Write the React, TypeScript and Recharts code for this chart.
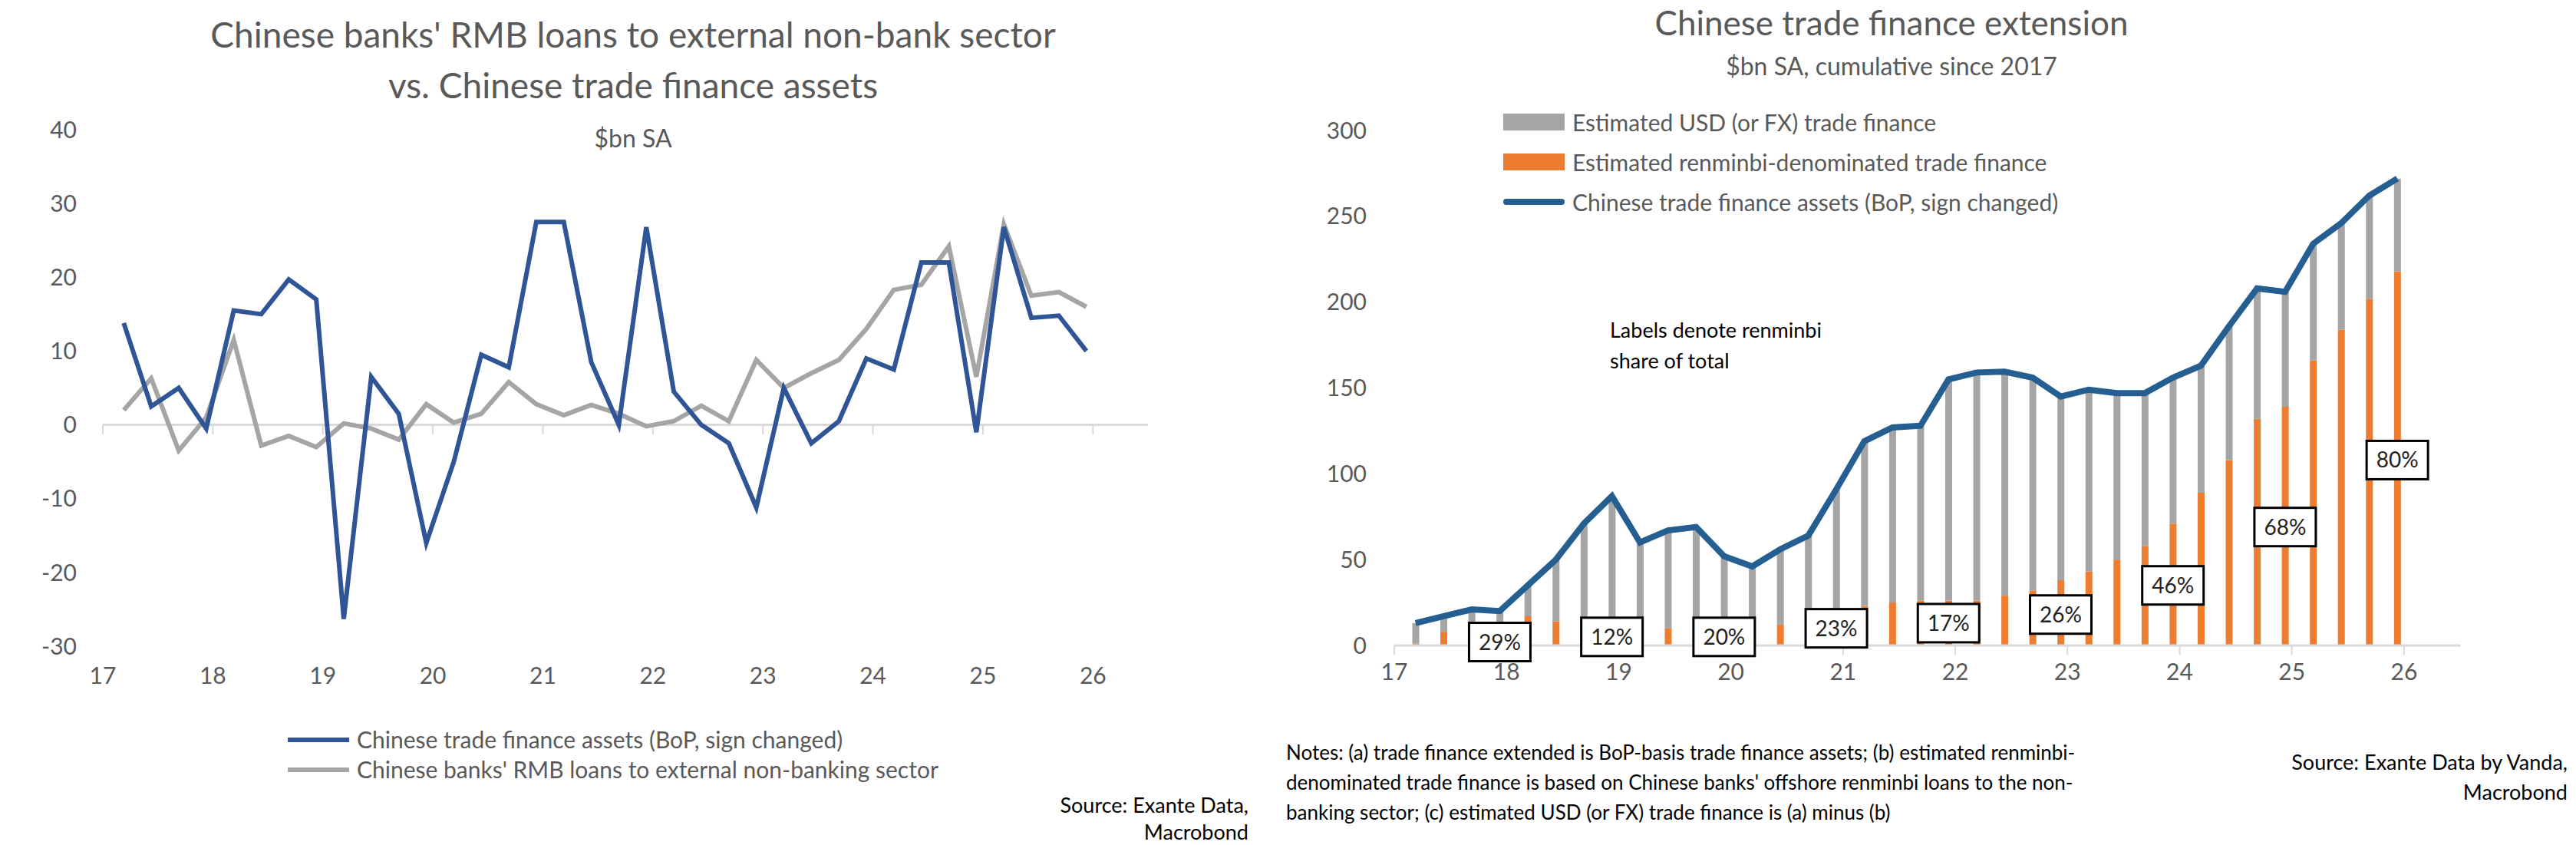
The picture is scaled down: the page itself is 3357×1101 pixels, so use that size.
import React from 'react'
import {
  LineChart,
  ComposedChart,
  Line,
  Bar,
  XAxis,
  YAxis,
  ReferenceLine,
  ReferenceDot,
} from 'recharts'

// quarters 2017Q1 .. 2025Q4
const quarters = [
  '17Q1', '17Q2', '17Q3', '17Q4', '18Q1', '18Q2', '18Q3', '18Q4',
  '19Q1', '19Q2', '19Q3', '19Q4', '20Q1', '20Q2', '20Q3', '20Q4',
  '21Q1', '21Q2', '21Q3', '21Q4', '22Q1', '22Q2', '22Q3', '22Q4',
  '23Q1', '23Q2', '23Q3', '23Q4', '24Q1', '24Q2', '24Q3', '24Q4',
  '25Q1', '25Q2', '25Q3', '25Q4',
]

const tradeFinanceFlow = [
  13.8, 2.5, 5, -0.5, 15.5, 15, 19.7, 17, -26.3, 6.5, 1.5, -16,
  -5, 9.5, 7.8, 27.5, 27.5, 8.5, 0, 26.8, 4.5, 0, -2.5, -11.2,
  5, -2.5, 0.5, 9, 7.5, 22, 22, -1, 26.8, 14.5, 14.8, 10,
]
const rmbLoans = [
  2, 6.3, -3.5, 1, 11.5, -2.8, -1.5, -3, 0.2, -0.5, -2, 2.8,
  0.3, 1.5, 5.8, 2.8, 1.3, 2.7, 1.5, -0.2, 0.5, 2.6, 0.5, 8.8,
  5, 7, 8.8, 13, 18.3, 19, 24.2, 6.5, 27.2, 17.5, 18, 16,
]

const cumulativeTotal = [
  13, 17, 21, 20, 35, 50, 71, 87, 60, 67, 69, 52,
  46, 56, 64, 91, 119, 127, 128, 155, 159, 159.5, 156, 145,
  149, 147, 147, 156, 163, 186, 208, 206, 234, 246, 262, 272,
]
const renminbiPart = [
  1, 8, 3, 6, 17, 14, 12, 10, 9, 10, 11, 10,
  10, 12, 16, 21, 23, 25, 26, 26, 26, 29, 32, 38,
  43, 50, 58, 71, 89, 108, 132, 139, 166, 184, 202, 218,
]

const yearTicks = [17, 18, 19, 20, 21, 22, 23, 24, 25, 26]
const leftYTicks = [-30, -20, -10, 0, 10, 20, 30, 40]
const rightYTicks = [0, 50, 100, 150, 200, 250, 300]

const shareLabels = [
  { q: '17Q4', y: 2, text: '29%' },
  { q: '18Q4', y: 5, text: '12%' },
  { q: '19Q4', y: 5, text: '20%' },
  { q: '20Q4', y: 10, text: '23%' },
  { q: '21Q4', y: 13, text: '17%' },
  { q: '22Q4', y: 18, text: '26%' },
  { q: '23Q4', y: 35, text: '46%' },
  { q: '24Q4', y: 69, text: '68%' },
  { q: '25Q4', y: 108, text: '80%' },
]

function quarterX(q: string) {
  const year = Number(q.slice(0, 2))
  const n = Number(q.slice(3))
  return year + 0.19 + (n - 1) * 0.25
}

const leftData = quarters.map((q, i) => ({
  x: quarterX(q),
  flow: tradeFinanceFlow[i],
  loans: rmbLoans[i],
}))

const rightData = quarters.map((q, i) => ({
  x: quarterX(q),
  total: cumulativeTotal[i],
  rmb: renminbiPart[i],
  usd: cumulativeTotal[i] - renminbiPart[i],
}))

const font = 'Lato, "Open Sans", sans-serif'
const grey = '#595959'
const tick = { fontSize: 30, fill: grey, fontFamily: font }

function abs(left: number, top: number, extra: React.CSSProperties = {}): React.CSSProperties {
  return { position: 'absolute', left, top, fontFamily: font, whiteSpace: 'nowrap', ...extra }
}

function ShareBox(props: any) {
  const { cx, cy, text } = props
  return (
    <g>
      <rect x={cx - 40} y={cy - 25} width={80} height={50} fill="#fff" stroke="#000" strokeWidth={3} />
      <text x={cx} y={cy + 10} textAnchor="middle" fontSize={28} fill="#222" fontFamily={font}>{text}</text>
    </g>
  )
}

export default function App() {
  return (
    <div style={{ position: 'absolute', left: 0, top: 0, width: 3357, height: 1101, background: '#fff', overflow: 'hidden' }}>
      {/* left chart */}
      <div style={abs(0, 12, { width: 1650, textAlign: 'center', fontSize: 46, color: grey, lineHeight: '66px' })}>
        Chinese banks' RMB loans to external non-bank sector<br />vs. Chinese trade finance assets
      </div>
      <div style={abs(0, 160, { width: 1650, textAlign: 'center', fontSize: 32, color: grey })}>$bn SA</div>
      <div style={{ position: 'absolute', left: 0, top: 0 }}>
        <LineChart width={1650} height={1101} data={leftData} margin={{ top: 169, right: 154, bottom: 209, left: 74 }}>
          <XAxis type="number" dataKey="x" domain={[17, 26.5]} ticks={yearTicks} axisLine={false} tickLine={false}
            tick={tick} tickMargin={22} height={50} />
          <YAxis type="number" domain={[-30, 40]} ticks={leftYTicks} axisLine={false} tickLine={false}
            tick={tick} tickMargin={28} width={60} />
          <ReferenceLine y={0} stroke="#D9D9D9" strokeWidth={3} />
          {yearTicks.map((y) => (
            <ReferenceLine key={y} segment={[{ x: y, y: 0 }, { x: y, y: -1.3 }]} stroke="#D9D9D9" strokeWidth={2} />
          ))}
          <Line dataKey="loans" stroke="#A5A5A5" strokeWidth={6} dot={false} isAnimationActive={false} />
          <Line dataKey="flow" stroke="#2F5597" strokeWidth={6} dot={false} isAnimationActive={false} />
        </LineChart>
      </div>
      <div style={abs(375, 944, { fontSize: 30, color: grey, lineHeight: '39px' })}>
        <div style={{ display: 'flex', alignItems: 'center' }}>
          <span style={{ width: 80, height: 6, background: '#2F5597', marginRight: 10 }} />Chinese trade finance assets (BoP, sign changed)
        </div>
        <div style={{ display: 'flex', alignItems: 'center' }}>
          <span style={{ width: 80, height: 6, background: '#A5A5A5', marginRight: 10 }} />Chinese banks' RMB loans to external non-banking sector
        </div>
      </div>
      <div style={abs(1200, 1031, { width: 427, textAlign: 'right', fontSize: 27, color: '#000', lineHeight: '35px' })}>
        Source: Exante Data,<br />Macrobond
      </div>

      {/* right chart */}
      <div style={abs(1700, 2, { width: 1530, textAlign: 'center', fontSize: 44, color: grey, lineHeight: '54px' })}>Chinese trade finance extension</div>
      <div style={abs(1700, 66, { width: 1530, textAlign: 'center', fontSize: 32, color: grey })}>$bn SA, cumulative since 2017</div>
      <div style={{ position: 'absolute', left: 1700, top: 0 }}>
        <ComposedChart width={1657} height={1101} data={rightData} margin={{ top: 170, right: 151, bottom: 210, left: 57 }}>
          <XAxis type="number" dataKey="x" domain={[17, 26.5]} ticks={yearTicks} stroke="#D9D9D9" strokeWidth={3}
            tickLine={{ stroke: '#D9D9D9', strokeWidth: 2 }} tickSize={12} tick={tick} tickMargin={12} height={50} />
          <YAxis type="number" domain={[0, 300]} ticks={rightYTicks} axisLine={false} tickLine={false}
            tick={tick} tickMargin={30} width={60} />
          <Bar dataKey="rmb" stackId="a" fill="#ED7D31" barSize={9} isAnimationActive={false} />
          <Bar dataKey="usd" stackId="a" fill="#A5A5A5" barSize={9} isAnimationActive={false} />
          <Line dataKey="total" stroke="#255E91" strokeWidth={8} dot={false} isAnimationActive={false} />
          {shareLabels.map((l) => (
            <ReferenceDot key={l.q} x={quarterX(l.q)} y={l.y} r={1}
              shape={(p: any) => <ShareBox {...p} text={l.text} />} />
          ))}
        </ComposedChart>
      </div>
      <div style={abs(1959, 133, { fontSize: 30, color: grey, lineHeight: '52px' })}>
        <div style={{ display: 'flex', alignItems: 'center' }}>
          <span style={{ width: 80, height: 22, background: '#A5A5A5', marginRight: 10 }} />Estimated USD (or FX) trade finance
        </div>
        <div style={{ display: 'flex', alignItems: 'center' }}>
          <span style={{ width: 80, height: 22, background: '#ED7D31', marginRight: 10 }} />Estimated renminbi-denominated trade finance
        </div>
        <div style={{ display: 'flex', alignItems: 'center' }}>
          <span style={{ width: 80, height: 8, borderRadius: 4, background: '#255E91', marginRight: 10 }} />Chinese trade finance assets (BoP, sign changed)
        </div>
      </div>
      <div style={abs(2098, 410, { fontSize: 27, color: '#000', lineHeight: '40px' })}>
        Labels denote renminbi<br />share of total
      </div>
      <div style={abs(1676, 961, { width: 1200, fontSize: 26, color: '#000', lineHeight: '39px', whiteSpace: 'normal' })}>
        Notes: (a) trade finance extended is BoP-basis trade finance assets; (b) estimated renminbi-<br />denominated trade finance is based on Chinese banks' offshore renminbi loans to the non-<br />banking sector; (c) estimated USD (or FX) trade finance is (a) minus (b)
      </div>
      <div style={abs(2900, 973, { width: 446, textAlign: 'right', fontSize: 27, color: '#000', lineHeight: '39px' })}>
        Source: Exante Data by Vanda,<br />Macrobond
      </div>
    </div>
  )
}
